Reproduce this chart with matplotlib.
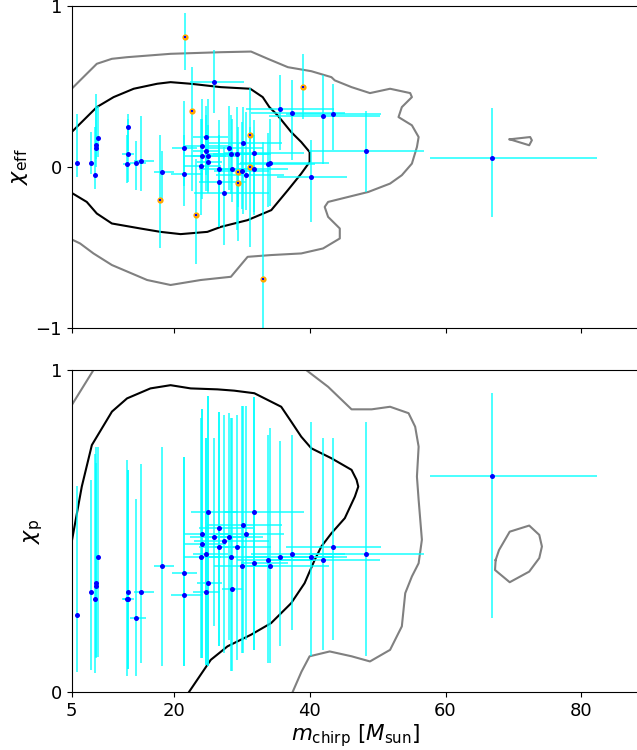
import numpy as np
import matplotlib
matplotlib.use('Agg')
import matplotlib.pyplot as plt

## ========= data =========

# events with both spins (blue points)
mc = [5.78, 7.86, 8.45, 8.5, 8.6, 8.9, 13.28, 13.28, 13.08, 14.47,
      15.15, 18.26, 21.46, 21.46, 25.9, 24.77, 24.18, 24.77, 24.18, 25.0,
      24.0, 25.0, 26.68, 26.68, 27.38, 28.07, 28.46, 29.26, 28.56, 30.23,
      30.08, 30.67, 31.86, 31.86, 33.83, 34.22, 35.66, 37.43, 41.98, 43.46,
      40.15, 48.28, 66.83]
mc_minus = [0.1, 0.1, 0.1, 0.1, 0.1, 0.1, 0.3, 0.84, 0.6, 0.95,
            1.0, 1.2, 1.7, 1.9, 3.5, 2.0, 2.5, 2.0, 2.5, 2.5,
            2.5, 1.6, 3.0, 3.0, 4.4, 3.5, 3.5, 3.5, 1.5, 5.3,
            4.2, 4.5, 4.5, 2.0, 4.5, 4.5, 5.0, 6.0, 8.0, 7.0,
            4.9, 8.3, 9.1]
mc_plus = [0.1, 0.1, 0.15, 0.15, 0.15, 0.2, 0.3, 0.94, 0.6, 1.4,
           2.0, 1.8, 2.0, 2.8, 4.5, 3.2, 4.0, 2.0, 3.5, 4.5,
           3.0, 2.1, 5.0, 4.0, 6.7, 5.0, 5.5, 5.0, 1.5, 5.7,
           4.0, 5.5, 7.3, 5.0, 7.0, 8.6, 8.0, 7.8, 8.4, 7.0,
           5.3, 8.5, 15.5]

chi_eff = [0.027, 0.027, -0.051, 0.139, 0.118, 0.178, 0.248, 0.079, 0.019, 0.027,
           0.037, -0.033, 0.118, -0.041, 0.527, 0.188, 0.128, 0.097, 0.068, 0.068,
           0.009, 0.029, -0.012, -0.093, -0.161, 0.118, 0.079, 0.079, -0.012, 0.147,
           -0.022, -0.051, 0.087, -0.012, 0.019, 0.027, 0.358, 0.337, 0.319, 0.327,
           -0.062, 0.097, 0.058]
chi_eff_low = [-0.062, -0.041, -0.134, 0.0, 0.052, 0.06, 0.1, -0.093, -0.1, -0.145,
               -0.15, -0.206, -0.12, -0.244, 0.335, -0.05, -0.1, -0.15, -0.2, -0.15,
               -0.3, -0.16, -0.37, -0.37, -0.485, -0.14, -0.17, -0.39, -0.22, -0.29,
               -0.26, -0.27, -0.28, -0.3, -0.25, -0.24, 0.104, 0.042, 0.021, 0.104,
               -0.341, -0.155, -0.31]
chi_eff_high = [0.327, 0.217, 0.25, 0.451, 0.372, 0.38, 0.331, 0.30, 0.2, 0.159,
                0.318, 0.099, 0.407, 0.2, 0.728, 0.38, 0.42, 0.32, 0.30, 0.42,
                0.3, 0.26, 0.29, 0.2, 0.124, 0.38, 0.32, 0.37, 0.3, 0.37,
                0.28, 0.34, 0.29, 0.2, 0.21, 0.30, 0.569, 0.538, 0.569, 0.517,
                0.166, 0.345, 0.368]

chi_p = [0.24, 0.31, 0.29, 0.34, 0.33, 0.42, 0.31, 0.29, 0.29, 0.23,
         0.31, 0.39, 0.37, 0.30, 0.48, 0.43, 0.49, 0.31, 0.46, 0.559,
         0.42, 0.34, 0.51, 0.45, 0.47, 0.48, 0.42, 0.45, 0.32, 0.52,
         0.39, 0.49, 0.559, 0.40, 0.41, 0.39, 0.42, 0.43, 0.41, 0.45,
         0.42, 0.43, 0.67]
chi_p_low = [0.061, 0.069, 0.059, 0.105, 0.11, 0.11, 0.071, 0.071, 0.051, 0.051,
             0.09, 0.082, 0.082, 0.082, 0.204, 0.085, 0.105, 0.085, 0.105, 0.082,
             0.105, 0.082, 0.142, 0.142, 0.121, 0.162, 0.064, 0.10, 0.064, 0.121,
             0.121, 0.162, 0.131, 0.131, 0.09, 0.09, 0.142, 0.193, 0.131, 0.162,
             0.111, 0.111, 0.229]
chi_p_high = [0.64, 0.659, 0.739, 0.71, 0.76, 0.76, 0.69, 0.69, 0.721, 0.60,
              0.709, 0.76, 0.729, 0.729, 0.788, 0.788, 0.878, 0.788, 0.878, 0.919,
              0.85, 0.919, 0.871, 0.871, 0.86, 0.866, 0.85, 0.86, 0.85, 0.888,
              0.888, 0.888, 0.917, 0.917, 0.798, 0.819, 0.78, 0.798, 0.788, 0.788,
              0.84, 0.84, 0.93]

# events with only chi_eff (orange points, top panel)
mc_only = [21.65, 22.64, 17.98, 23.33, 31.27, 31.27, 29.53, 29.43, 33.12, 39.04]
eff_only = [0.806, 0.35, -0.202, -0.301, 0.198, 0.0, -0.033, -0.101, -0.698, 0.496]
eff_only_low = [0.60, -0.15, -0.506, -0.60, -0.05, -0.50, -0.25, -0.46, -1.05, 0.30]
eff_only_high = [0.955, 0.624, 0.197, 0.05, 0.49, 0.25, 0.25, 0.15, 0.154, 0.703]

# population contours (traced by hand), top panel: (m_chirp, chi_eff)
eff_outer_x = [5.0, 6.23, 7.95, 8.69, 10.91, 13.13, 19.54, 26.94, 31.38, 33.85,
               36.80, 40.25, 43.21, 43.70, 46.17, 48.88, 51.84, 54.80, 55.05, 53.57,
               53.08, 55.05, 56.04, 55.79, 55.05, 53.57, 51.84, 48.64, 45.68, 42.72,
               42.22, 42.72, 44.44, 44.44, 41.98, 38.77, 34.36, 30.88, 28.42, 23.98,
               19.54, 16.09, 10.91, 8.20, 6.23, 5.0]
eff_outer_y = [0.486, 0.538, 0.610, 0.641, 0.672, 0.682, 0.703, 0.713, 0.717, 0.672,
               0.620, 0.595, 0.558, 0.538, 0.496, 0.459, 0.486, 0.459, 0.434, 0.372,
               0.310, 0.259, 0.186, 0.124, 0.021, -0.051, -0.103, -0.155, -0.186, -0.217,
               -0.248, -0.310, -0.382, -0.444, -0.506, -0.537, -0.547, -0.558, -0.682, -0.702,
               -0.733, -0.702, -0.609, -0.537, -0.475, -0.450]
eff_island_x = [69.44, 72.45, 72.70, 72.31, 69.44]
eff_island_y = [0.172, 0.186, 0.166, 0.135, 0.172]
eff_inner_x = [5.0, 6.23, 8.69, 11.16, 14.12, 17.57, 19.54, 22.5, 26.94, 31.27,
               33.10, 34.08, 35.31, 37.29, 38.77, 40.0, 40.0, 38.77, 36.80, 34.36,
               30.88, 26.94, 24.96, 21.02, 18.06, 15.10, 10.91, 8.69, 7.21, 5.0]
eff_inner_y = [0.217, 0.269, 0.372, 0.434, 0.486, 0.517, 0.527, 0.517, 0.496, 0.486,
               0.434, 0.372, 0.320, 0.217, 0.155, 0.093, 0.031, -0.041, -0.144, -0.268,
               -0.330, -0.372, -0.403, -0.417, -0.403, -0.382, -0.351, -0.289, -0.217, -0.161]

# bottom panel: (m_chirp, chi_p)
p_inner_x = [22.25, 23.98, 25.46, 27.93, 31.38, 34.33, 37.29, 39.26, 40.74, 41.73,
             43.21, 45.18, 46.66, 47.16, 46.91, 46.17, 43.21, 40.25, 38.77, 37.29,
             35.82, 31.87, 28.91, 26.45, 22.50, 19.54, 16.58, 13.14, 10.92, 7.96,
             6.48, 5.0]
p_inner_y = [0.0, 0.054, 0.100, 0.142, 0.178, 0.214, 0.276, 0.338, 0.410, 0.452,
             0.493, 0.540, 0.607, 0.638, 0.659, 0.690, 0.726, 0.757, 0.793, 0.840,
             0.886, 0.928, 0.936, 0.940, 0.943, 0.953, 0.943, 0.912, 0.871, 0.767,
             0.638, 0.467]
p_corner_x = [5.0, 8.20]
p_corner_y = [0.891, 1.0]
p_outer_x = [39.5, 42.72, 46.17, 49.13, 51.84, 54.56, 55.53, 56.04, 55.79, 56.04,
             56.52, 56.04, 55.05, 54.07, 53.57, 51.84, 48.88, 46.17, 42.96, 40.0,
             38.8, 37.5]
p_outer_y = [1.0, 0.948, 0.878, 0.878, 0.886, 0.866, 0.824, 0.762, 0.669, 0.597,
             0.473, 0.400, 0.359, 0.307, 0.204, 0.131, 0.095, 0.111, 0.126, 0.111,
             0.063, 0.0]
p_island_x = [67.37, 67.87, 69.44, 72.31, 73.79, 74.18, 73.79, 72.31, 69.44, 67.28, 67.37]
p_island_y = [0.41, 0.441, 0.498, 0.517, 0.488, 0.452, 0.416, 0.374, 0.341, 0.379, 0.41]

xticks = [5, 20, 40, 60, 80]

## ========= plotting =========

def errs(val, low, high):
    val = np.array(val)
    return [val - np.array(low), np.array(high) - val]

fig = plt.figure(figsize=(6.37, 7.5), dpi=100)
ax1 = fig.add_axes([0.1126, 0.5627, 0.892, 0.4293])
ax2 = fig.add_axes([0.1126, 0.0773, 0.892, 0.4293], sharex=ax1)

ebar = dict(fmt='none', ecolor='cyan', elinewidth=1.1, alpha=0.9, zorder=2)

# top: chi_eff
ax1.plot(eff_outer_x, eff_outer_y, c='grey', lw=1.5, zorder=1)
ax1.plot(eff_island_x, eff_island_y, c='grey', lw=1.5, zorder=1)
ax1.plot(eff_inner_x, eff_inner_y, c='k', lw=1.5, zorder=1)
ax1.errorbar(mc, chi_eff, xerr=[mc_minus, mc_plus],
             yerr=errs(chi_eff, chi_eff_low, chi_eff_high), **ebar)
ax1.errorbar(mc_only, eff_only, yerr=errs(eff_only, eff_only_low, eff_only_high), **ebar)
ax1.plot(mc_only, eff_only, 'o', c='orange', ms=4.5, mew=0, zorder=3)
ax1.plot(mc_only, eff_only, 's', c='blue', ms=1.8, mew=0, zorder=4)
ax1.plot(mc, chi_eff, 'o', c='blue', ms=3.6, mew=0, zorder=4)
ax1.set_ylim(-1, 1)
ax1.set_yticks([-1, 0, 1])
ax1.set_ylabel(r'$\chi_{\rm eff}$', fontsize=16)
ax1.tick_params(labelbottom=False, labelsize=13)

# bottom: chi_p
ax2.plot(p_corner_x, p_corner_y, c='grey', lw=1.5, zorder=1)
ax2.plot(p_outer_x, p_outer_y, c='grey', lw=1.5, zorder=1)
ax2.plot(p_island_x, p_island_y, c='grey', lw=1.5, zorder=1)
ax2.plot(p_inner_x, p_inner_y, c='k', lw=1.5, zorder=1)
ax2.errorbar(mc, chi_p, xerr=[mc_minus, mc_plus],
             yerr=errs(chi_p, chi_p_low, chi_p_high), **ebar)
ax2.plot(mc, chi_p, 'o', c='blue', ms=3.6, mew=0, zorder=4)
ax2.set_ylim(0, 1)
ax2.set_yticks([0, 1])
ax2.set_ylabel(r'$\chi_{\rm p}$', fontsize=16)
ax2.set_xlabel(r'$m_{\rm chirp}$ [$M_{\rm sun}$]', fontsize=15.5, labelpad=1.5)
ax2.tick_params(labelsize=13)

ax2.set_xlim(5, 88.6)
ax2.set_xticks(xticks)

fig.savefig('out.png', dpi=100)
